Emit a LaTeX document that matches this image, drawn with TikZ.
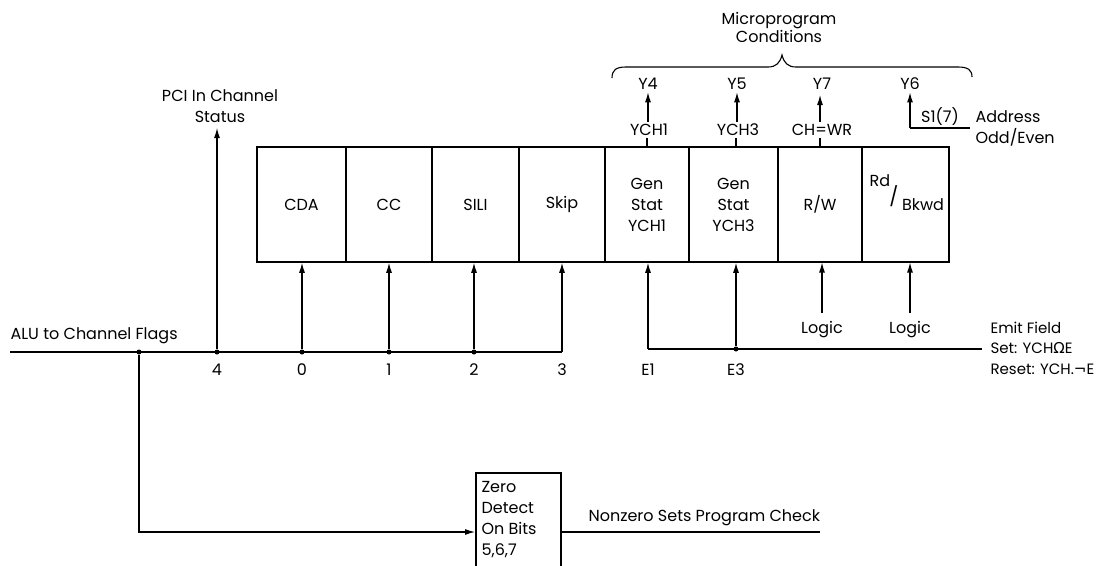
\documentclass[tikz,border=0pt]{standalone}
\usepackage{fontspec}
\setmainfont{Poppins}
\newfontfamily\symf{DejaVu Sans}
\usetikzlibrary{arrows.meta}
\begin{document}
\begin{tikzpicture}[x=1pt,y=-1pt,
  font=\fontsize{16}{21}\selectfont,
  line width=1.1pt,
  reg/.style={draw, line width=1.6pt, minimum height=115pt, align=center, inner sep=0pt},
  arr/.style={-{Latex[length=10pt,width=6pt]}},
  dot/.style={circle, fill, inner sep=0pt, minimum size=5pt},
  lbl/.style={inner sep=2pt}
]
\useasboundingbox (0,0) rectangle (1119,565);

% register boxes
\node[reg, minimum width=89pt] (cda) at (301.5,204.5) {CDA};
\node[reg, minimum width=86pt] (cc) at (389,204.5) {CC};
\node[reg, minimum width=87pt] (sili) at (475.5,204.5) {SILI};
\node[reg, minimum width=86pt] (skip) at (562,204.5) {Skip};
\node[reg, minimum width=84pt] (gs1) at (647,204.5) {Gen\\Stat\\YCH1};
\node[reg, minimum width=89pt] (gs3) at (733.5,204.5) {Gen\\Stat\\YCH3};
\node[reg, minimum width=84pt] (rw) at (820,204.5) {R/W};
\node[reg, minimum width=87pt] (rd) at (905.5,204.5) {};
\node[lbl] (rdt) at (880,181) {Rd};
\node[lbl, font=\fontsize{19}{21}\selectfont] (rds) at (894,196) {/};
\node[lbl] (bkwd) at (923,205) {Bkwd};

% bus
\coordinate (busL) at (10,352);
\node[dot] (br) at (139,352) {};
\node[dot] (d4) at (217,352) {};
\node[dot] (d0) at (302,352) {};
\node[dot] (d1) at (389,352) {};
\node[dot] (d2) at (474,352) {};
\coordinate (b3) at (562,352);
\draw (busL) -- (b3);
\node[lbl, anchor=south west] (alu) at (8,346) {ALU to Channel Flags};

\node[lbl, align=center] (pci) at (220,106) {PCI In Channel\\Status};
\draw[arr] (d4) -- (217,128);
\draw[arr] (d0) -- (d0 |- cda.south);
\draw[arr] (d1) -- (d1 |- cc.south);
\draw[arr] (d2) -- (d2 |- sili.south);
\draw[arr] (b3) -- (b3 |- skip.south);

\node[lbl] (l4) at (217,370) {4};
\node[lbl] (l0) at (302,370) {0};
\node[lbl] (l1) at (389,370) {1};
\node[lbl] (l2) at (474,370) {2};
\node[lbl] (l3) at (562,370) {3};

% emit line
\coordinate (e1) at (648,349);
\node[dot] (e3) at (736,349) {};
\coordinate (eR) at (982,349);
\draw (e1) -- (eR);
\draw[arr] (e1) -- (e1 |- gs1.south);
\draw[arr] (e3) -- (e3 |- gs3.south);
\node[lbl] (le1) at (648,370) {E1};
\node[lbl] (le3) at (736,370) {E3};
\node[lbl, align=left, anchor=west, font=\fontsize{15}{20.5}\selectfont] (emit) at (988,348) {Emit Field\\Set: YCH{\symf Ω}E\\Reset: YCH.{\symf ¬}E};

\node[lbl] (lg1) at (822,330) {Logic};
\node[lbl] (lg2) at (910,330) {Logic};
\draw[arr] (822,313) -- (822,262.5);
\draw[arr] (910,313) -- (910,262.5);

% top labels
\node[lbl] (mpc) at (779,29) {\begin{tabular}{@{}c@{}}Microprogram\\[-3pt]Conditions\end{tabular}};
\draw (612,78) .. controls (612,70) and (616,67) .. (626,67) -- (768,67)
  .. controls (776,67) and (780,63) .. (782,55)
  .. controls (784,63) and (788,67) .. (796,67) -- (958,67)
  .. controls (968,67) and (972,70) .. (972,77);
\node[lbl] (y4) at (648,84) {Y4};
\node[lbl] (y5) at (737,84) {Y5};
\node[lbl] (y7) at (822,84) {Y7};
\node[lbl] (y6) at (910,84) {Y6};
\node[lbl] (ych1) at (649,130) {YCH1};
\node[lbl] (ych3) at (738,130) {YCH3};
\node[lbl] (chwr) at (822,130) {CH=WR};
\draw (ych1.south -| gs1) -- (gs1.north);
\draw (ych3.south -| 736,0) -- (736,147);
\draw (chwr.south -| 820,0) -- (820,147);
\draw[arr] (ych1.north -| y4) -- (y4.south);
\draw[arr] (ych3.north -| 737,0) -- (y5.south);
\draw[arr] (chwr.north -| 820,0) -- (820,95);
\coordinate (s1c) at (910,128);
\coordinate (s1e) at (970,128);
\draw[arr] (s1c) -- (y6.south);
\draw (s1c) -- (s1e);
\node[lbl] (s17) at (940,117) {S1(7)};
\node[lbl, align=left, anchor=west] (addr) at (973,128) {Address\\Odd/Even};

% zero detect
\node[draw, line width=1.6pt, minimum width=85pt, minimum height=100pt, anchor=north west, inner sep=0pt] (zd) at (475,472) {};
\node[lbl, align=left, anchor=north west, font=\fontsize{16}{21}\selectfont] (zdt) at (479,479) {Zero\\Detect\\On Bits\\5,6,7};
\coordinate (zin) at (475,532);
\draw[arr] (br) |- (zin);
\coordinate (nzR) at (820,532);
\draw (zd.east |- zin) -- (nzR);
\node[lbl, anchor=south west] (nz) at (586,528) {Nonzero Sets Program Check};
\end{tikzpicture}
\end{document}
